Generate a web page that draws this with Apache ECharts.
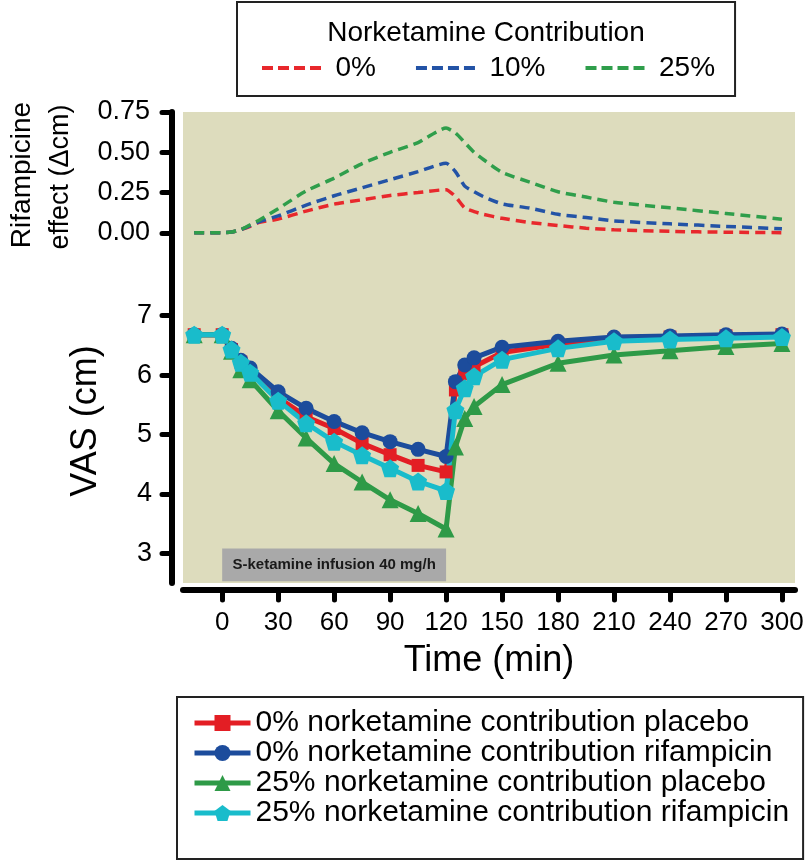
<!DOCTYPE html>
<html>
<head>
<meta charset="utf-8">
<style>
html,body{margin:0;padding:0;background:#fff;}
#chart{width:812px;height:862px;}
</style>
<script src="https://cdn.jsdelivr.net/npm/echarts@6/dist/echarts.min.js"></script>
</head>
<body>
<div id="chart"></div>
<script>
// ---- data ----
const timeVAS = [-15, 0, 5, 10, 15, 30, 45, 60, 75, 90, 105, 120, 125, 130, 135, 150, 180, 210, 240, 270, 300];
const vas0Placebo    = [6.68, 6.68, 6.43, 6.22, 6.06, 5.62, 5.30, 5.10, 4.85, 4.66, 4.48, 4.37, 5.75, 6.02, 6.14, 6.38, 6.52, 6.60, 6.64, 6.66, 6.68];
const vas0Rifampicin = [6.68, 6.68, 6.45, 6.25, 6.12, 5.72, 5.44, 5.22, 5.03, 4.88, 4.75, 4.63, 5.89, 6.17, 6.29, 6.47, 6.57, 6.64, 6.66, 6.68, 6.69];
const vas25Placebo   = [6.68, 6.68, 6.40, 6.09, 5.92, 5.40, 4.94, 4.51, 4.20, 3.90, 3.67, 3.41, 4.79, 5.27, 5.47, 5.84, 6.20, 6.34, 6.41, 6.48, 6.53];
const vas25Rifampicin= [6.68, 6.68, 6.43, 6.21, 6.04, 5.57, 5.19, 4.88, 4.65, 4.43, 4.21, 4.05, 5.41, 5.78, 5.98, 6.26, 6.45, 6.57, 6.60, 6.62, 6.64];

const timeEffect = [-15, 0, 5, 10, 15, 20, 30, 45, 60, 75, 90, 105, 120, 125, 130, 135, 140, 150, 165, 180, 195, 210, 240, 270, 300];
const effect0  = [0, 0, 0.005, 0.02, 0.04, 0.065, 0.085, 0.135, 0.178, 0.205, 0.232, 0.25, 0.268, 0.225, 0.155, 0.132, 0.115, 0.09, 0.064, 0.045, 0.029, 0.019, 0.009, 0.004, 0.001];
const effect10 = [0, 0, 0.005, 0.02, 0.045, 0.07, 0.105, 0.172, 0.23, 0.28, 0.33, 0.38, 0.432, 0.38, 0.29, 0.255, 0.225, 0.18, 0.153, 0.115, 0.095, 0.074, 0.056, 0.04, 0.025];
const effect25 = [0, 0, 0.005, 0.02, 0.05, 0.08, 0.15, 0.26, 0.34, 0.43, 0.50, 0.56, 0.65, 0.62, 0.56, 0.50, 0.455, 0.375, 0.314, 0.255, 0.222, 0.19, 0.155, 0.12, 0.085];

const xTicks = [0, 30, 60, 90, 120, 150, 180, 210, 240, 270, 300];
const effectTicks = [0, 0.25, 0.5, 0.75];
const vasTicks = [3, 4, 5, 6, 7];
const infusionWindow = [0, 120];
const infusionBand = [2.53, 3.08];
const infusionLabel = 'S-ketamine infusion 40 mg/h';

const effectNames = ['0%', '10%', '25%'];
const vasNames = [
  '0% norketamine contribution placebo',
  '0% norketamine contribution rifampicin',
  '25% norketamine contribution placebo',
  '25% norketamine contribution rifampicin'
];

// ---- styling ----
const FONT = "'Liberation Sans', Arial, Helvetica, sans-serif";
const BEIGE = '#dddcbd';
const cRed = '#e31e24', cBlue = '#1c4c9c', cGreen = '#2e9a47', cCyan = '#19bccb';
const dRed = '#e8282c', dBlue = '#2353a6', dGreen = '#2f9e4b';
const pentagon = 'path://M0,-10 L9.51,-3.09 L5.88,8.09 L-5.88,8.09 L-9.51,-3.09 Z';
const dashIcon = 'path://M0,0H11V4H0Z M16,0H27V4H16Z M32,0H43V4H32Z M48,0H59V4H48Z';

const zip = (xs, ys) => xs.map((x, i) => [x, ys[i]]);

const chart = echarts.init(document.getElementById('chart'), null, {renderer: 'canvas'});

function dashed(name, data, color) {
  return {
    name, type: 'line', xAxisIndex: 0, yAxisIndex: 0,
    data: zip(timeEffect, data), symbol: 'none', showSymbol: false, smooth: 0.2,
    lineStyle: {color, width: 3.5, type: [10, 6]}, itemStyle: {color},
    z: 3
  };
}
function solid(name, data, color, symbol, size, extra) {
  return Object.assign({
    name, type: 'line', xAxisIndex: 1, yAxisIndex: 1,
    data: zip(timeVAS, data), symbol, symbolSize: size, showSymbol: true,
    lineStyle: {color, width: 5}, itemStyle: {color},
    z: 4
  }, extra || {});
}

const axisLineStyle = {color: '#000', width: 6, cap: 'round'};
const tickStyle = {color: '#000', width: 5, cap: 'round'};

const option = {
  animation: false,
  backgroundColor: '#fff',
  grid: [
    {left: 183, right: 17, top: 112, height: 174, show: true, backgroundColor: BEIGE, borderWidth: 0},
    {left: 183, right: 17, top: 286, height: 297, show: true, backgroundColor: BEIGE, borderWidth: 0}
  ],
  xAxis: [
    {gridIndex: 0, type: 'value', min: -21, max: 307, show: false},
    {gridIndex: 1, type: 'value', min: -21, max: 307, offset: 7,
     name: 'Time (min)', nameLocation: 'middle', nameGap: 53,
     nameTextStyle: {fontFamily: FONT, fontSize: 36, color: '#000'},
     axisLine: {show: true, onZero: false, lineStyle: axisLineStyle},
     axisTick: {show: true, length: 10, lineStyle: tickStyle, customValues: xTicks},
     axisLabel: {show: true, fontFamily: FONT, fontSize: 26, color: '#000', margin: 20, customValues: xTicks},
     splitLine: {show: false}}
  ],
  yAxis: [
    {gridIndex: 0, type: 'value', min: -0.33, max: 0.75, offset: 11,
     axisLine: {show: true, onZero: false, lineStyle: axisLineStyle},
     axisTick: {show: true, length: 10, lineStyle: tickStyle, customValues: effectTicks},
     axisLabel: {show: true, fontFamily: FONT, fontSize: 27, color: '#000', margin: 22,
                 customValues: effectTicks, formatter: v => v.toFixed(2)},
     splitLine: {show: false}},
    {gridIndex: 1, type: 'value', min: 2.5, max: 7.5, offset: 11,
     axisLine: {show: true, onZero: false, lineStyle: axisLineStyle},
     axisTick: {show: true, length: 10, lineStyle: tickStyle, customValues: vasTicks},
     axisLabel: {show: true, fontFamily: FONT, fontSize: 27, color: '#000', margin: 20, customValues: vasTicks},
     splitLine: {show: false}}
  ],
  legend: [
    {
      data: effectNames.map(n => ({name: n, icon: dashIcon})),
      orient: 'horizontal', left: 237, top: 2,
      padding: [52, 20, 14, 25], itemGap: 40, itemWidth: 60, itemHeight: 4,
      borderColor: '#222', borderWidth: 2, selectedMode: false,
      textStyle: {fontFamily: FONT, fontSize: 28, color: '#000', padding: [0, 0, 0, 9]}
    },
    {
      data: vasNames, orient: 'vertical', left: 177, top: 697,
      padding: [11, 14, 31, 15], itemGap: 0, itemWidth: 56, itemHeight: 20,
      borderColor: '#222', borderWidth: 2, selectedMode: false,
      lineStyle: {width: 5},
      textStyle: {fontFamily: FONT, fontSize: 30, color: '#000', lineHeight: 30}
    }
  ],
  graphic: [
    {type: 'text', x: 486, y: 33, z: 100,
     style: {text: 'Norketamine Contribution', font: '28px ' + FONT, fill: '#000',
             textAlign: 'center', textVerticalAlign: 'middle'}},
    {type: 'text', x: 22, y: 175, rotation: Math.PI / 2, z: 100,
     style: {text: 'Rifampicine', font: '28px ' + FONT, fill: '#000',
             textAlign: 'center', textVerticalAlign: 'middle'}},
    {type: 'text', x: 61, y: 177, rotation: Math.PI / 2, z: 100,
     style: {text: 'effect (\u0394cm)', font: '27px ' + FONT, fill: '#000',
             textAlign: 'center', textVerticalAlign: 'middle'}},
    {type: 'text', x: 86, y: 421, rotation: Math.PI / 2, z: 100,
     style: {text: 'VAS (cm)', font: '36px ' + FONT, fill: '#000',
             textAlign: 'center', textVerticalAlign: 'middle'}}
  ],
  series: [
    dashed(effectNames[0], effect0, dRed),
    dashed(effectNames[1], effect10, dBlue),
    dashed(effectNames[2], effect25, dGreen),
    solid(vasNames[0], vas0Placebo, cRed, 'rect', 13, {
      markArea: {
        silent: true,
        itemStyle: {color: '#a9a9a9'},
        label: {show: true, position: 'inside', fontFamily: FONT, fontSize: 15, fontWeight: 'bold', color: '#1a1a1a'},
        data: [[
          {name: infusionLabel, xAxis: infusionWindow[0], yAxis: infusionBand[1]},
          {xAxis: infusionWindow[1], yAxis: infusionBand[0]}
        ]]
      }
    }),
    solid(vasNames[1], vas0Rifampicin, cBlue, 'circle', 15),
    solid(vasNames[2], vas25Placebo, cGreen, 'triangle', 17),
    solid(vasNames[3], vas25Rifampicin, cCyan, pentagon, 18)
  ]
};
chart.setOption(option);
</script>
</body>
</html>
